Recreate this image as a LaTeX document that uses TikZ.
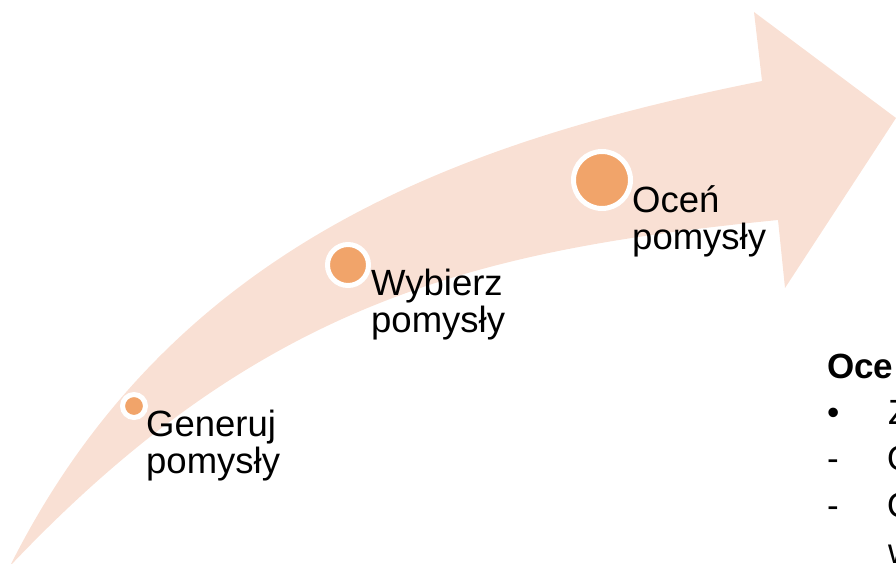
\documentclass[tikz,border=0pt]{standalone}
\usepackage{fontspec}
\setmainfont{Liberation Sans}
\definecolor{band}{HTML}{F9E0D4}
\definecolor{dot}{HTML}{F1A46A}
\begin{document}
\begin{tikzpicture}[x=1pt,y=-1pt,
  dotnode/.style={circle,fill=dot,draw=white,line width=5pt,inner sep=0pt},
  lbl/.style={anchor=base west,inner sep=0pt,align=left,font=\fontsize{36.5}{37}\selectfont},
  side/.style={anchor=base west,inner sep=0pt,font=\fontsize{35}{37}\selectfont}]
\clip (0,0) rectangle (896,564);
\fill[band] (10,566) .. controls (172,243) and (462,141) .. (762,81)
  -- (754,12) -- (896,118) -- (785,288) -- (778,220)
  .. controls (478,250) and (262,300) .. (10,566) -- cycle;
\node[dotnode,minimum size=23pt] (d1) at (134,406) {};
\node[dotnode,minimum size=41pt] (d2) at (348,265) {};
\node[dotnode,minimum size=57pt] (d3) at (602,180) {};
\node[lbl] (t1) at (146,473) {Generuj\\pomysły};
\node[lbl] (t2) at (371,332) {Wybierz\\pomysły};
\node[lbl] (t3) at (632,249) {Oceń\\pomysły};
\node[side,font=\fontsize{35}{37}\selectfont\bfseries] (h) at (827,378) {Oce};
\node[side] (b1) at (827,424) {•};
\node[side] (s1) at (888,424) {Z};
\node[side] (b2) at (827,470) {-};
\node[side] (s2) at (887,470) {O};
\node[side] (b3) at (827,517) {-};
\node[side] (s3) at (887,517) {O};
\node[side] (s4) at (888,563) {w};
\end{tikzpicture}
\end{document}
